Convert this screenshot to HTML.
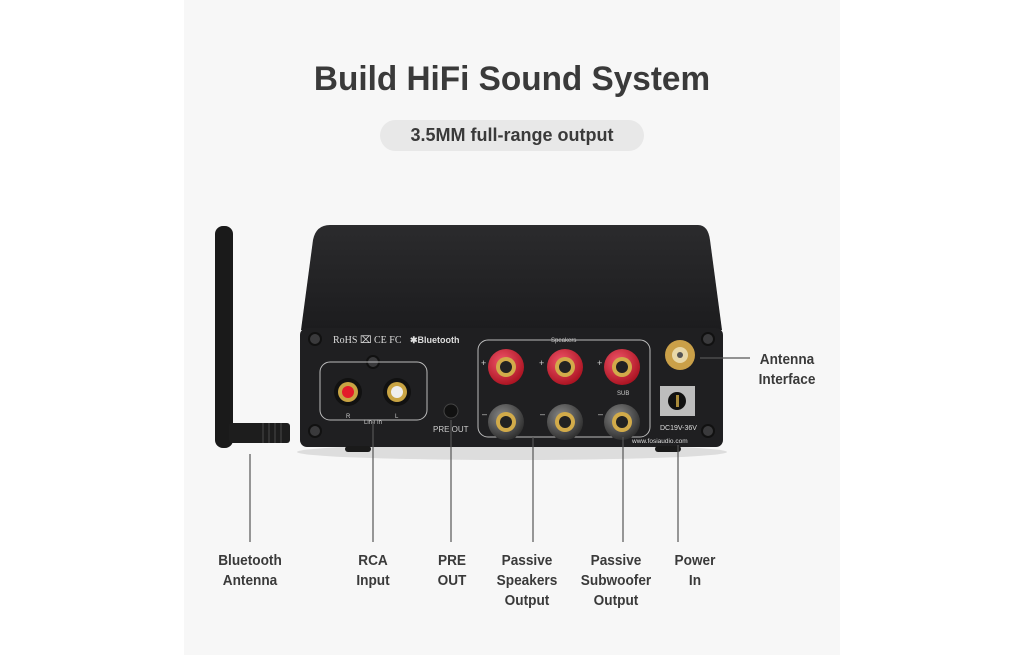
<!DOCTYPE html>
<html><head><meta charset="utf-8"><style>
html,body{margin:0;padding:0;background:#fff;}
body{width:1024px;height:655px;position:relative;overflow:hidden;font-family:"Liberation Sans",sans-serif;}
#panel{position:absolute;left:184px;top:0;width:656px;height:655px;background:#f7f7f7;}
.t{position:absolute;color:#3a3a3a;font-weight:bold;text-align:center;}
.l{transform:scaleX(0.94);}
</style></head><body>
<div id="panel"></div>
<div class="t" style="left:184px;width:656px;top:60px;font-size:34px;transform:scaleX(0.98);">Build HiFi Sound System</div>
<div style="position:absolute;left:380px;top:120px;width:264px;height:31px;border-radius:16px;background:#e8e8e8;"></div>
<div class="t" style="left:380px;width:264px;top:125px;font-size:18px;font-weight:bold;color:#3a3a3a;">3.5MM full-range output</div>
<svg width="1024" height="655" style="position:absolute;left:0;top:0" xmlns="http://www.w3.org/2000/svg">
<defs>
<linearGradient id="top" x1="0" y1="0" x2="0" y2="1"><stop offset="0" stop-color="#2b2b2d"/><stop offset="1" stop-color="#1c1c1e"/></linearGradient>
<radialGradient id="red" cx="0.4" cy="0.35" r="0.7"><stop offset="0" stop-color="#f0566a"/><stop offset="1" stop-color="#a8101e"/></radialGradient>
<radialGradient id="blk" cx="0.4" cy="0.35" r="0.7"><stop offset="0" stop-color="#8a8a8a"/><stop offset="1" stop-color="#2a2a2a"/></radialGradient>
</defs>
<ellipse cx="512" cy="452" rx="215" ry="8" fill="#ddd"/>
<path d="M330 225 H698 Q708 225 710 240 L722 330 H301 L313 240 Q316 225 330 225Z" fill="url(#top)"/>
<rect x="300" y="328" width="423" height="119" rx="7" fill="#1f1f21"/>
<rect x="345" y="446" width="26" height="6" rx="3" fill="#1a1a1a"/><rect x="655" y="446" width="26" height="6" rx="3" fill="#1a1a1a"/>
<g fill="#3a3a3c" stroke="#111" stroke-width="2"><circle cx="315" cy="339" r="6"/><circle cx="315" cy="431" r="6"/><circle cx="708" cy="339" r="6"/><circle cx="708" cy="431" r="6"/><circle cx="373" cy="362" r="6"/></g>
<g fill="none" stroke="#bbb" stroke-width="1"><rect x="320" y="362" width="107" height="58" rx="10"/><rect x="478" y="340" width="172" height="97" rx="10"/></g>
<text x="333" y="343" fill="#ddd" font-size="10" font-family="Liberation Serif">RoHS ⌧ CE FC</text>
<text x="410" y="343" fill="#ddd" font-size="9" font-weight="bold">✱Bluetooth</text>
<circle cx="348" cy="392" r="14" fill="#111"/><circle cx="348" cy="392" r="10" fill="#c9a443"/><circle cx="348" cy="392" r="6" fill="#e31b2a"/>
<circle cx="397" cy="392" r="14" fill="#111"/><circle cx="397" cy="392" r="10" fill="#c9a443"/><circle cx="397" cy="392" r="6" fill="#eee"/>
<text x="346" y="418" fill="#ccc" font-size="6">R</text><text x="395" y="418" fill="#ccc" font-size="6">L</text>
<text x="364" y="424" fill="#ccc" font-size="6">Line In</text>
<circle cx="451" cy="411" r="7" fill="#111" stroke="#444"/>
<text x="433" y="432" fill="#ccc" font-size="8">PRE OUT</text>
<text x="551" y="342" fill="#ccc" font-size="6">Speakers</text>
<g>
<circle cx="506" cy="367" r="18" fill="url(#red)"/><circle cx="506" cy="367" r="10" fill="#d2ab4a"/><circle cx="506" cy="367" r="6" fill="#222"/>
<circle cx="565" cy="367" r="18" fill="url(#red)"/><circle cx="565" cy="367" r="10" fill="#d2ab4a"/><circle cx="565" cy="367" r="6" fill="#222"/>
<circle cx="622" cy="367" r="18" fill="url(#red)"/><circle cx="622" cy="367" r="10" fill="#d2ab4a"/><circle cx="622" cy="367" r="6" fill="#222"/>
<circle cx="506" cy="422" r="18" fill="url(#blk)"/><circle cx="506" cy="422" r="10" fill="#d2ab4a"/><circle cx="506" cy="422" r="6" fill="#222"/>
<circle cx="565" cy="422" r="18" fill="url(#blk)"/><circle cx="565" cy="422" r="10" fill="#d2ab4a"/><circle cx="565" cy="422" r="6" fill="#222"/>
<circle cx="622" cy="422" r="18" fill="url(#blk)"/><circle cx="622" cy="422" r="10" fill="#d2ab4a"/><circle cx="622" cy="422" r="6" fill="#222"/>
</g>
<g fill="#ccc" font-size="9"><text x="481" y="366">+</text><text x="539" y="366">+</text><text x="597" y="366">+</text><text x="482" y="417">–</text><text x="540" y="417">–</text><text x="598" y="417">–</text></g>
<text x="617" y="395" fill="#ccc" font-size="6">SUB</text>
<circle cx="680" cy="355" r="15" fill="#caa048"/><circle cx="680" cy="355" r="8" fill="#e8d8a8"/><circle cx="680" cy="355" r="3" fill="#555"/>
<rect x="660" y="386" width="35" height="30" fill="#bdbdbd"/><circle cx="677" cy="401" r="9" fill="#111"/><rect x="676" y="395" width="3" height="12" fill="#a88a3a"/>
<text x="660" y="430" fill="#ddd" font-size="7">DC19V-36V</text>
<text x="632" y="443" fill="#ddd" font-size="6.5">www.fosiaudio.com</text>
<rect x="215" y="226" width="18" height="222" rx="8" fill="#1a1a1a"/>
<rect x="229" y="423" width="61" height="20" rx="3" fill="#1d1d1d"/>
<g fill="#333"><rect x="262" y="423" width="2" height="20"/><rect x="268" y="423" width="2" height="20"/><rect x="274" y="423" width="2" height="20"/><rect x="280" y="423" width="2" height="20"/></g>
<g stroke="#555" stroke-width="1.2">
<line x1="250" y1="454" x2="250" y2="542"/><line x1="373" y1="420" x2="373" y2="542"/><line x1="451" y1="420" x2="451" y2="542"/><line x1="533" y1="437" x2="533" y2="542"/><line x1="623" y1="437" x2="623" y2="542"/><line x1="678" y1="445" x2="678" y2="542"/>
<line x1="700" y1="358" x2="750" y2="358"/>
</g>
</svg>
<div class="t l" style="left:755px;top:350px;width:64px;font-size:14.5px;line-height:20px;">Antenna Interface</div>
<div class="t l" style="left:200px;top:551px;width:100px;font-size:14.5px;line-height:20px;">Bluetooth<br>Antenna</div>
<div class="t l" style="left:323px;top:551px;width:100px;font-size:14.5px;line-height:20px;">RCA<br>Input</div>
<div class="t l" style="left:402px;top:551px;width:100px;font-size:14.5px;line-height:20px;">PRE<br>OUT</div>
<div class="t l" style="left:477px;top:551px;width:100px;font-size:14.5px;line-height:20px;">Passive<br>Speakers<br>Output</div>
<div class="t l" style="left:561px;top:551px;width:110px;font-size:14.5px;line-height:20px;">Passive<br>Subwoofer<br>Output</div>
<div class="t l" style="left:655px;top:551px;width:80px;font-size:14.5px;line-height:20px;">Power<br>In</div>
</body></html>
